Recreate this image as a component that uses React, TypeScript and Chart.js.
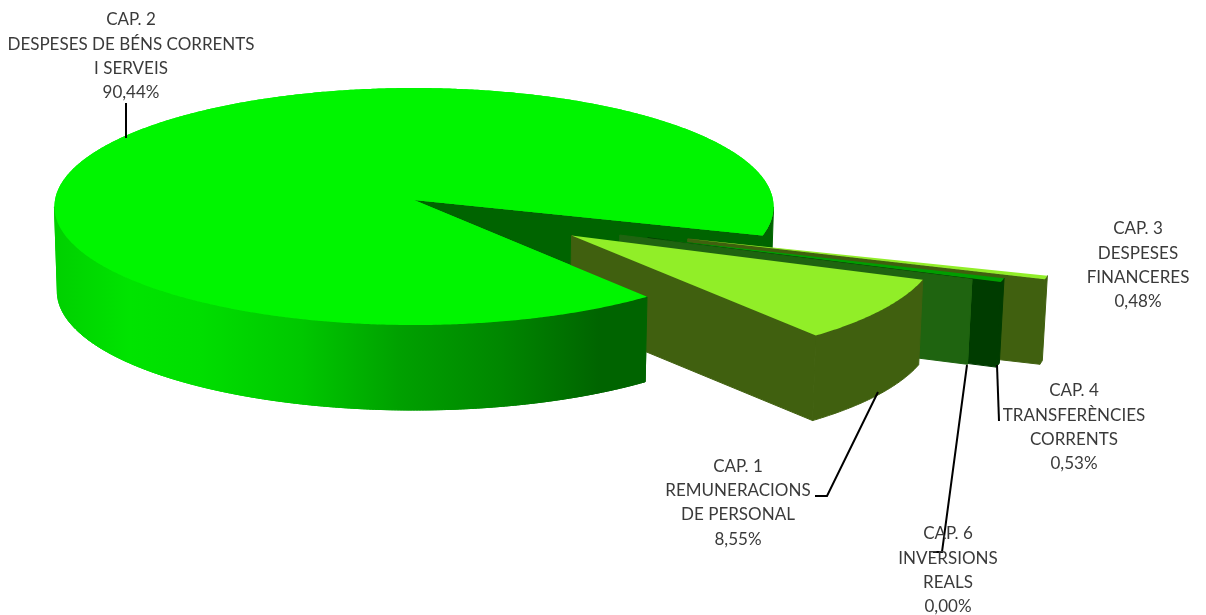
import React, { useEffect, useRef } from "react";
import { Chart, registerables } from "chart.js";

Chart.register(...registerables);

// ---- data ----
const categories = ["CAP. 1", "CAP. 2", "CAP. 3", "CAP. 4", "CAP. 6"];
const descriptions = [
  ["REMUNERACIONS", "DE PERSONAL"],
  ["DESPESES DE BÉNS CORRENTS", "I SERVEIS"],
  ["DESPESES", "FINANCERES"],
  ["TRANSFERÈNCIES", "CORRENTS"],
  ["INVERSIONS", "REALS"],
];
const percentages = [8.55, 90.44, 0.48, 0.53, 0.0];
const percentLabels = ["8,55%", "90,44%", "0,48%", "0,53%", "0,00%"];

// ---- styles ----
const topColors = ["#91EE28", "#00F500", "#91EE28", "#009E00", "#1F6A10"];
const wallColors = ["#40600F", "#006400", "#40600F", "#003C00", "#1F6410"];
const explode = [
  [0.4318, 0.2957],
  [0, 0],
  [0.749, 0.323],
  [0.64, 0.314],
  [0.564, 0.292],
];
const labelAnchors = [
  [738, 466.5],
  [131, 20],
  [1138, 229],
  [1074, 391],
  [948, 534],
];
const leaders = [
  [[878, 392], [827, 496], [815, 496]],
  [[126, 103], [126, 138]],
  [],
  [[997, 365], [999, 421]],
  [[967, 365], [942, 552], [933, 552]],
];
const sideStops: [number, string][] = [
  [54, "rgb(0,208,0)"],
  [130, "rgb(0,228,0)"],
  [200, "rgb(0,222,0)"],
  [300, "rgb(0,200,0)"],
  [400, "rgb(0,160,0)"],
  [500, "rgb(0,135,0)"],
  [600, "rgb(0,100,0)"],
];
const ROTATION = 110.82;
const CX = 414;
const CY = 200;
const RX = 359;
const RY = 118.15;
const PERSP = 0.0549;
const DEPTH = 85;
const SHRINK = 0.992;
const MAIN = 1;
const DRAW_ORDER = [1, 2, 3, 4, 0];
const LINE_H = 24.2;

type Pt = [number, number];

const project = (u: number, v: number): Pt => {
  const w = 1 - PERSP * v;
  return [CX + (RX * u) / w, CY + (RY * v) / w];
};
const sink = (p: Pt): Pt => [CX + (p[0] - CX) * SHRINK, p[1] + DEPTH];

const trace = (ctx: CanvasRenderingContext2D, pts: Pt[]) => {
  ctx.beginPath();
  pts.forEach((p, i) => (i ? ctx.lineTo(p[0], p[1]) : ctx.moveTo(p[0], p[1])));
  ctx.closePath();
};

// parts of the rim that face the viewer (x runs right to left along them)
const frontRuns = (rim: Pt[]): Pt[][] => {
  const runs: Pt[][] = [];
  let cur: Pt[] = [];
  for (let k = 0; k < rim.length - 1; k++) {
    if (rim[k + 1][0] <= rim[k][0]) {
      if (!cur.length) cur.push(rim[k]);
      cur.push(rim[k + 1]);
    } else if (cur.length) {
      runs.push(cur);
      cur = [];
    }
  }
  if (cur.length) runs.push(cur);
  return runs;
};

const pie3d = {
  id: "pie3d",
  beforeDatasetsDraw(chart: any) {
    const ctx: CanvasRenderingContext2D = chart.ctx;
    const arcs = chart.getDatasetMeta(0).data;
    const rimOf = (i: number): Pt[] => {
      const { startAngle, endAngle } = arcs[i];
      const [ox, oy] = explode[i];
      const rim: Pt[] = [];
      const steps = Math.max(2, Math.ceil((endAngle - startAngle) * 120));
      for (let s = 0; s <= steps; s++) {
        const a = startAngle + ((endAngle - startAngle) * s) / steps;
        rim.push(project(ox + Math.cos(a), oy + Math.sin(a)));
      }
      return rim;
    };
    const sideStyle = (i: number): any => {
      if (i !== MAIN) return wallColors[i];
      const x0 = sideStops[0][0];
      const x1 = sideStops[sideStops.length - 1][0];
      const g = ctx.createLinearGradient(x0, 0, x1, 0);
      sideStops.forEach(([x, c]) => g.addColorStop((x - x0) / (x1 - x0), c));
      return g;
    };
    const paintSide = (i: number, run: Pt[]) => {
      const style = sideStyle(i);
      trace(ctx, [...run, ...run.map(sink).reverse()]);
      ctx.fillStyle = style;
      ctx.strokeStyle = style;
      ctx.fill();
      ctx.stroke();
    };
    const paintTop = (i: number, rim: Pt[]) => {
      trace(ctx, [project(explode[i][0], explode[i][1]), ...rim]);
      ctx.fillStyle = topColors[i];
      ctx.fill();
    };

    ctx.save();
    ctx.lineWidth = 1;
    DRAW_ORDER.forEach((i) => {
      const rim = rimOf(i);
      const tip = project(explode[i][0], explode[i][1]);
      const last = rim[rim.length - 1];
      // radial wall at the end of the slice, facing the viewer
      trace(ctx, [tip, last, sink(last), sink(tip)]);
      ctx.fillStyle = wallColors[i];
      ctx.strokeStyle = wallColors[i];
      ctx.fill();
      ctx.stroke();
      frontRuns(rim).forEach((run) => paintSide(i, run));
      paintTop(i, rim);
    });
    // the near part of the big slice stands in front of the exploded ones
    const mainRim = rimOf(MAIN);
    const longest = frontRuns(mainRim).sort((a, b) => b.length - a.length)[0];
    paintSide(MAIN, longest);
    paintTop(MAIN, mainRim);
    ctx.restore();
    return false;
  },
  afterDraw(chart: any) {
    const ctx: CanvasRenderingContext2D = chart.ctx;
    ctx.save();
    ctx.strokeStyle = "#000";
    ctx.lineWidth = 2;
    ctx.lineJoin = "miter";
    leaders.forEach((line) => {
      if (!line.length) return;
      ctx.beginPath();
      line.forEach((p, k) => (k ? ctx.lineTo(p[0], p[1]) : ctx.moveTo(p[0], p[1])));
      ctx.stroke();
    });
    ctx.fillStyle = "#3A3A3A";
    ctx.font = '17px "Lato"';
    ctx.textAlign = "center";
    ctx.textBaseline = "middle";
    categories.forEach((cat, i) => {
      const lines = [cat, ...descriptions[i], percentLabels[i]];
      lines.forEach((t, k) => {
        ctx.fillText(t, labelAnchors[i][0], labelAnchors[i][1] + k * LINE_H);
      });
    });
    ctx.restore();
  },
};

export default function App() {
  const ref = useRef<HTMLCanvasElement | null>(null);
  useEffect(() => {
    if (!ref.current) return;
    const chart = new Chart(ref.current, {
      type: "pie",
      data: {
        labels: categories,
        datasets: [
          {
            data: percentages,
            backgroundColor: topColors,
            borderWidth: 0,
          },
        ],
      },
      options: {
        responsive: false,
        animation: false,
        rotation: ROTATION,
        plugins: { legend: { display: false }, tooltip: { enabled: false } },
      },
      plugins: [pie3d],
    } as any);
    return () => chart.destroy();
  }, []);
  return (
    <div style={{ position: "absolute", left: 0, top: 0, width: 1206, height: 615, background: "#fff" }}>
      <canvas ref={ref} width={1206} height={615} style={{ display: "block" }} />
    </div>
  );
}
